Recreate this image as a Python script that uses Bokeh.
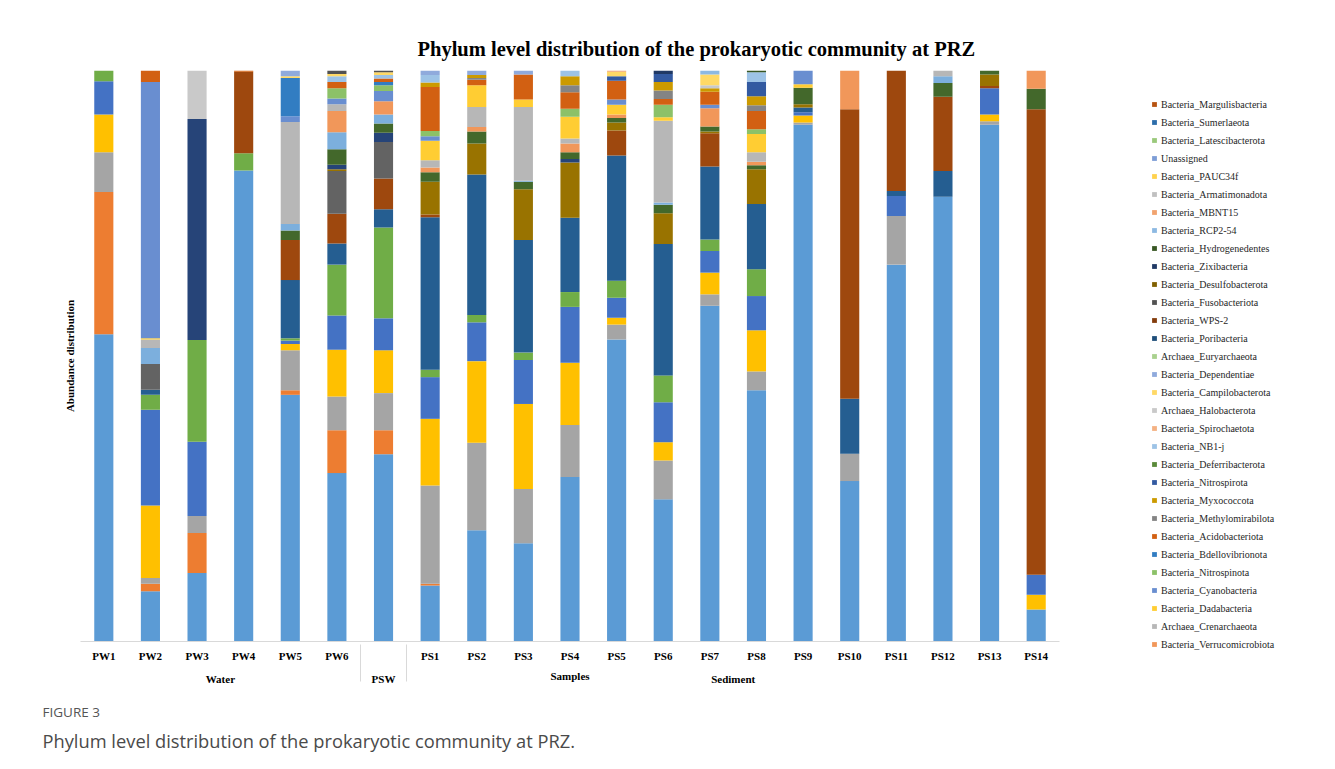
from bokeh.plotting import figure
from bokeh.layouts import row
from bokeh.models import (FactorRange, Range1d, ColumnDataSource, Legend,
                          LegendItem, Title, FixedTicker)
from bokeh.embed import file_html
from bokeh.resources import INLINE

# ---- series (bottom of the stack first); the first 13 are not named in the legend ----
PHYLA = [
    "Unlisted_01", "Unlisted_02", "Unlisted_03", "Unlisted_04", "Unlisted_05",
    "Unlisted_06", "Unlisted_07", "Unlisted_08", "Unlisted_09", "Unlisted_10",
    "Unlisted_11", "Unlisted_12", "Unlisted_13",
    "Bacteria_Verrucomicrobiota", "Archaea_Crenarchaeota", "Bacteria_Dadabacteria",
    "Bacteria_Cyanobacteria", "Bacteria_Nitrospinota", "Bacteria_Bdellovibrionota",
    "Bacteria_Acidobacteriota", "Bacteria_Methylomirabilota", "Bacteria_Myxococcota",
    "Bacteria_Nitrospirota", "Bacteria_Deferribacterota", "Bacteria_NB1-j",
    "Bacteria_Spirochaetota", "Archaea_Halobacterota", "Bacteria_Campilobacterota",
    "Bacteria_Dependentiae", "Archaea_Euryarchaeota", "Bacteria_Poribacteria",
    "Bacteria_WPS-2", "Bacteria_Fusobacteriota", "Bacteria_Desulfobacterota",
    "Bacteria_Zixibacteria", "Bacteria_Hydrogenedentes", "Bacteria_RCP2-54",
    "Bacteria_MBNT15", "Bacteria_Armatimonadota", "Bacteria_PAUC34f",
    "Unassigned", "Bacteria_Latescibacterota", "Bacteria_Sumerlaeota",
    "Bacteria_Margulisbacteria",
]

COLORS = [
    "#5B9BD5", "#ED7D31", "#A5A5A5", "#FFC000", "#4472C4", "#70AD47",
    "#255E91", "#9E480E", "#636363", "#997300", "#264478", "#43682B",
    "#7CAFDD", "#F1975A", "#B7B7B7", "#FFCD33", "#698ED0", "#8CC168",
    "#327DC2", "#D26012", "#848484", "#CC9A00", "#335AA1", "#5A8A39",
    "#9DC3E6", "#F4B183", "#C9C9C9", "#FFD966", "#8FAADC", "#A9D18E",
    "#1F4E7A", "#833C0C", "#525252", "#806000", "#203965", "#385724",
    "#8DB9E2", "#F1A36F", "#C0C0C0", "#FFD24D", "#7D9DD6", "#9AC97B",
    "#2C6DAA", "#B75311",
]

SAMPLES = ["PW1", "PW2", "PW3", "PW4", "PW5", "PW6", "PSW",
           "PS1", "PS2", "PS3", "PS4", "PS5", "PS6", "PS7",
           "PS8", "PS9", "PS10", "PS11", "PS12", "PS13", "PS14"]
GROUPS = ["Water"] * 6 + ["PSW"] + ["Sediment"] * 14
TICK_LABELS = SAMPLES[:6] + [""] + SAMPLES[7:]

# ---- relative abundance (%) per sample, keyed by series number (1 = PHYLA[0]) ----
PW1 = {1: 53.8, 2: 24.9, 3: 7.0, 4: 6.6, 5: 5.8, 6: 1.9}
PW2 = {1: 8.8, 2: 1.3, 3: 1.0, 4: 12.7, 5: 16.8, 6: 2.6, 7: 0.9, 9: 4.5,
       13: 2.8, 15: 1.5, 16: 0.2, 17: 44.9, 20: 2.0}
PW3 = {1: 12.0, 2: 7.0, 3: 3.0, 5: 13.0, 6: 17.8, 11: 38.7, 27: 8.5}
PW4 = {1: 82.5, 6: 3.0, 8: 14.3, 20: 0.2}
PW5 = {1: 43.2, 2: 0.8, 3: 7.0, 4: 1.1, 5: 0.6, 6: 0.4, 7: 10.2, 8: 7.0,
       12: 1.7, 13: 1.1, 15: 17.9, 17: 1.0, 19: 6.7, 28: 0.3, 29: 1.0}
PW6 = {1: 29.5, 2: 7.5, 3: 5.9, 4: 8.2, 5: 6.0, 6: 8.9, 7: 3.7, 8: 5.2,
       9: 7.5, 10: 0.3, 11: 0.8, 12: 2.7, 13: 3.0, 14: 3.7, 15: 1.2, 17: 1.0,
       18: 1.8, 20: 1.1, 25: 1.0, 28: 0.4, 33: 0.6}
PSW = {1: 32.8, 2: 4.2, 3: 6.5, 4: 7.5, 5: 5.6, 6: 15.9, 7: 3.2, 8: 5.4,
       9: 6.4, 11: 1.6, 12: 1.6, 13: 1.6, 14: 2.3, 17: 1.8, 18: 1.0, 19: 0.6,
       20: 0.6, 25: 0.6, 28: 0.5, 33: 0.3}
PS1 = {1: 9.8, 2: 0.3, 3: 17.2, 4: 11.7, 5: 7.3, 6: 1.3, 7: 26.7, 8: 0.5,
       10: 5.7, 12: 1.7, 14: 0.8, 15: 1.3, 16: 3.4, 17: 0.8, 18: 0.9, 20: 7.7,
       22: 0.8, 25: 1.3, 29: 0.8}
PS2 = {1: 19.5, 3: 15.3, 4: 14.3, 5: 6.8, 6: 1.3, 7: 24.6, 10: 5.4, 12: 2.1,
       14: 0.8, 15: 3.5, 16: 3.8, 20: 1.0, 21: 0.3, 22: 0.5, 29: 0.8}
PS3 = {1: 17.2, 3: 9.5, 4: 14.9, 5: 7.7, 6: 1.3, 7: 19.7, 10: 8.9, 12: 1.3,
       13: 0.2, 15: 12.9, 16: 1.3, 20: 4.4, 29: 0.7}
PS4 = {1: 28.8, 3: 9.1, 4: 10.9, 5: 9.8, 6: 2.6, 7: 13.0, 10: 9.7, 11: 0.6,
       12: 1.2, 14: 1.5, 15: 0.9, 16: 3.8, 18: 1.4, 20: 2.9, 21: 1.2, 22: 1.6,
       25: 1.0}
PS5 = {1: 52.9, 3: 2.6, 4: 1.2, 5: 3.5, 6: 3.0, 7: 21.9, 8: 4.4, 10: 1.4,
       12: 0.8, 14: 0.6, 16: 1.7, 17: 0.9, 20: 3.3, 23: 0.8, 28: 0.8, 38: 0.2}
PS6 = {1: 24.9, 3: 6.8, 4: 3.2, 5: 7.0, 6: 4.7, 7: 23.0, 10: 5.4, 12: 1.5,
       13: 0.4, 15: 14.3, 16: 0.6, 18: 2.2, 20: 1.0, 21: 1.5, 22: 1.5, 23: 1.4,
       35: 0.6}
PS7 = {1: 58.8, 3: 2.0, 4: 3.8, 5: 3.8, 6: 2.0, 7: 12.8, 8: 5.8, 10: 0.3,
       12: 0.9, 14: 3.2, 17: 0.6, 20: 2.3, 22: 0.6, 27: 0.5, 28: 1.9, 37: 0.7}
PS8 = {1: 44.0, 3: 3.3, 4: 7.2, 5: 6.0, 6: 4.7, 7: 11.4, 10: 6.1, 12: 0.7,
       14: 0.6, 15: 1.7, 16: 3.2, 18: 0.8, 20: 3.2, 21: 1.0, 22: 1.6, 23: 2.5,
       25: 1.7, 36: 0.3}
PS9 = {1: 90.5, 3: 0.4, 4: 1.2, 5: 0.6, 7: 0.8, 10: 0.6, 12: 2.9, 16: 0.6,
       17: 2.4}
PS10 = {1: 28.1, 3: 4.8, 7: 9.6, 8: 50.7, 14: 6.8}
PS11 = {1: 66.0, 3: 8.5, 5: 3.5, 7: 0.9, 8: 21.1}
PS12 = {1: 77.9, 7: 4.5, 8: 13.0, 12: 2.4, 13: 1.2, 15: 1.0}
PS13 = {1: 90.5, 3: 0.6, 4: 1.2, 5: 4.6, 8: 0.4, 10: 2.0, 12: 0.7}
PS14 = {1: 5.6, 4: 2.6, 5: 3.5, 8: 81.5, 12: 3.6, 14: 3.2}

ABUNDANCE = [PW1, PW2, PW3, PW4, PW5, PW6, PSW, PS1, PS2, PS3, PS4, PS5,
             PS6, PS7, PS8, PS9, PS10, PS11, PS12, PS13, PS14]

# ---- build the column source ----
factors = list(zip(GROUPS, TICK_LABELS))
data = {"x": factors}
for k, name in enumerate(PHYLA, start=1):
    data[name] = [row_.get(k, 0.0) for row_ in ABUNDANCE]
source = ColumnDataSource(data)

FONT = "Liberation Serif"

# ================= main chart =================
p = figure(
    width=1100, height=769,
    x_range=FactorRange(*factors, factor_padding=0, group_padding=0,
                        subgroup_padding=0, range_padding=0),
    y_range=Range1d(0, 100),
    output_backend="svg", toolbar_location=None,
    min_border_left=80, min_border_right=41,
    min_border_top=70, min_border_bottom=128,
)
p.outline_line_color = None
p.xgrid.grid_line_color = None
p.ygrid.grid_line_color = None

p.vbar_stack(PHYLA, x="x", width=0.41, color=COLORS, line_color=None,
             source=source)

# ---- title ----
p.title.text = "Phylum level distribution of the prokaryotic community at PRZ"
p.title.align = "left"
p.title.offset = 337
p.title.standoff = 21
p.title.text_font = FONT
p.title.text_font_size = "20.5px"
p.title.text_font_style = "bold"
p.title.text_color = "#000000"

# ---- axes ----
xa = p.xaxis[0]
xa.axis_line_color = "#D9D9D9"
xa.major_tick_line_color = None
xa.major_tick_out = 0
xa.major_tick_in = 0
xa.minor_tick_line_color = None
xa.major_label_text_font = FONT
xa.major_label_text_font_size = "11px"
xa.major_label_text_font_style = "bold"
xa.major_label_text_color = "#000000"
xa.major_label_standoff = 8
xa.group_text_font = FONT
xa.group_text_font_size = "11px"
xa.group_text_font_style = "bold"
xa.group_text_color = "#000000"
xa.separator_line_color = "#D9D9D9"
xa.separator_line_width = 1
xa.axis_label = "Samples"
xa.axis_label_text_font = FONT
xa.axis_label_text_font_size = "11px"
xa.axis_label_text_font_style = "bold"
xa.axis_label_text_color = "#000000"
xa.axis_label_standoff = -18

ya = p.yaxis[0]
ya.ticker = FixedTicker(ticks=[])
ya.axis_label = "Abundance distribution"
ya.axis_label_text_font = FONT
ya.axis_label_text_font_size = "11px"
ya.axis_label_text_font_style = "bold"
ya.axis_label_text_color = "#000000"
ya.axis_label_standoff = 5
ya.major_tick_out = 0
ya.major_tick_in = 0
ya.major_label_standoff = 0
ya.major_tick_line_color = None
ya.minor_tick_line_color = None
ya.axis_line_color = None

# ---- caption under the chart ----
p.add_layout(Title(text="FIGURE 3", align="left", offset=-38, standoff=32,
                   text_font="Open Sans", text_font_size="13.5px",
                   text_font_style="normal", text_color="#555555"), "below")
p.add_layout(Title(text="Phylum level distribution of the prokaryotic community at PRZ.",
                   align="left", offset=-38, standoff=-32,
                   text_font="Open Sans", text_font_size="18.3px",
                   text_font_style="normal", text_color="#4A4A4A"), "below")

# ================= legend strip =================
# The same stacks, hidden, provide the legend keys.
lg = figure(
    width=235, height=769, title=None,
    x_range=FactorRange(*factors), y_range=Range1d(0, 100),
    output_backend="svg", toolbar_location=None,
    x_axis_location=None, y_axis_location=None,
    min_border=0, min_border_left=0, min_border_right=0,
    min_border_top=0, min_border_bottom=0,
)
lg.frame_align = False
lg.outline_line_color = None
lg.xgrid.grid_line_color = None
lg.ygrid.grid_line_color = None
keys = lg.vbar_stack(PHYLA, x="x", width=0.41, color=COLORS, line_color=None,
                     source=source)
for r in keys:
    r.visible = False

items = [LegendItem(label=PHYLA[i], renderers=[keys[i]])
         for i in range(len(PHYLA) - 1, 12, -1)]
legend = Legend(items=items, location=(51, 119), ncols=1,
                label_text_font=FONT, label_text_font_size="10px",
                label_text_color="#262626", glyph_width=6, glyph_height=6,
                label_height=12, label_standoff=4, spacing=6,
                padding=0, margin=0, border_line_color=None,
                background_fill_alpha=0, inactive_fill_alpha=0)
lg.add_layout(legend)

layout = row(p, lg, spacing=0)
open("out.html", "w").write(file_html(layout, INLINE))
